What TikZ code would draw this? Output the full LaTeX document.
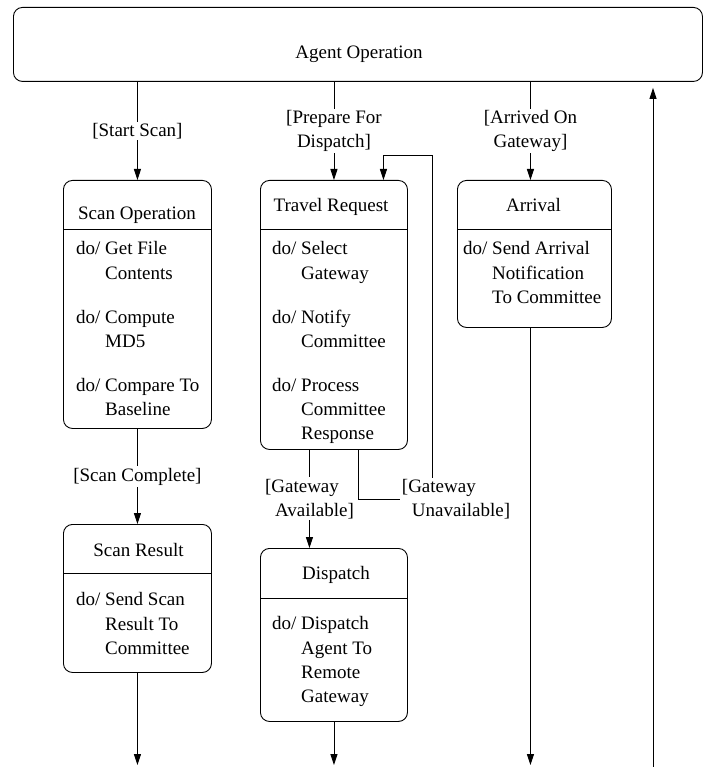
\documentclass[tikz,border=0pt]{standalone}
\usepackage{fontspec}
\setmainfont{Liberation Serif}
\usepackage{tikz}
\usetikzlibrary{arrows.meta, positioning}
\newcommand{\cont}{\hphantom{do/ }}
\tikzset{
>={Triangle[length=11pt,width=7pt]}, % filled arrow heads
every node/.style={font=\fontsize{19}{24.2}\selectfont}, % text size of the whole chart
statebox/.style={draw, rounded corners=9pt, line width=0.9pt, inner sep=0pt, anchor=north west}, % a state
head/.style={anchor=base, inner sep=0pt}, % state name
act/.style={anchor=north west, align=left, inner sep=0pt}, % do/ activities
guard/.style={fill=white, align=center, inner sep=1.5pt}, % [condition] on a transition
flow/.style={->, line width=0.9pt}, % a transition
}

\begin{document}
\begin{tikzpicture}[x=1pt, y=-1pt]
        \useasboundingbox (0,0) rectangle (711,767);

        % the super state
        \node[statebox, minimum width=689pt, minimum height=74pt] (agent) at (13,7) {};
        \node[head] (agentname) at (359,58.5) {Agent Operation};

        % the states
        \node[statebox, minimum width=148pt, minimum height=248pt] (scan) at (63,180) {};
        \node[head] (scanname) at (137,219) {Scan Operation};
        \node[act] (scando) at (76,241.5) {do/ Get File\\\cont Contents\\[19.8pt]do/ Compute\\\cont MD5\\[19.8pt]do/ Compare To\\\cont Baseline};

        \node[statebox, minimum width=147pt, minimum height=269pt] (travel) at (260,180) {};
        \node[head] (travelname) at (331,211.5) {Travel Request};
        \node[act] (traveldo) at (272,241.5) {do/ Select\\\cont Gateway\\[19.8pt]do/ Notify\\\cont Committee\\[19.8pt]do/ Process\\\cont Committee\\\cont Response};

        \node[statebox, minimum width=154pt, minimum height=147pt] (arrival) at (457,180) {};
        \node[head] (arrivalname) at (533.5,211.5) {Arrival};
        \node[act] (arrivaldo) at (463,241.5) {do/ Send Arrival\\\cont Notification\\\cont To Committee};

        \node[statebox, minimum width=148pt, minimum height=148pt] (result) at (63,524) {};
        \node[head] (resultname) at (138.5,556.5) {Scan Result};
        \node[act] (resultdo) at (76,592.5) {do/ Send Scan\\\cont Result To\\\cont Committee};

        \node[statebox, minimum width=147pt, minimum height=173pt] (dispatch) at (260,548) {};
        \node[head] (dispatchname) at (336,579.5) {Dispatch};
        \node[act] (dispatchdo) at (272,616.5) {do/ Dispatch\\\cont Agent To\\\cont Remote\\\cont Gateway};

        % compartment lines
        \draw[line width=0.9pt] ([yshift=-49pt]scan.north west) -- ([yshift=-49pt]scan.north east);
        \draw[line width=0.9pt] ([yshift=-49pt]travel.north west) -- ([yshift=-49pt]travel.north east);
        \draw[line width=0.9pt] ([yshift=-49pt]arrival.north west) -- ([yshift=-49pt]arrival.north east);
        \draw[line width=0.9pt] ([yshift=-49pt]result.north west) -- ([yshift=-49pt]result.north east);
        \draw[line width=0.9pt] ([yshift=-50pt]dispatch.north west) -- ([yshift=-50pt]dispatch.north east);

        \coordinate (bottom) at (0,765);
        \coordinate (back) at (653,767);
        \coordinate (arrin) at ([xshift=-4pt]arrival.north);
        \coordinate (arrout) at ([xshift=-4pt]arrival.south);

        % transitions
        \draw[flow] (agent.south -| scan.north) -- node[guard] {[Start Scan]} (scan.north);
        \draw[flow] (agent.south -| travel.north) -- node[guard] {[Prepare For\\Dispatch]} (travel.north);
        \draw[flow] (agent.south -| arrin) -- node[guard] {[Arrived On\\Gateway]} (arrin);
        \draw[flow] (scan.south) -- node[guard] {[Scan Complete]} (result.north);
        \draw[flow] ([xshift=-24.5pt]travel.south) -- node[guard, align=left] {[Gateway\\\hspace*{10pt}Available]} ([xshift=-24.5pt]dispatch.north);
        \draw[flow] ([xshift=24.5pt]travel.south) |- (432,499) -- (432,155) -| ([xshift=49.5pt]travel.north);
        \node[guard, align=left] (unavail) at (456,499) {[Gateway\\\hspace*{10pt}Unavailable]};
        \draw[flow] (result.south) -- (result.south |- bottom);
        \draw[flow] (dispatch.south) -- (dispatch.south |- bottom);
        \draw[flow] (arrout) -- (arrout |- bottom);
        \draw[flow, shorten >=6pt] (back) -- (back |- agent.south);
\end{tikzpicture}
\end{document}
